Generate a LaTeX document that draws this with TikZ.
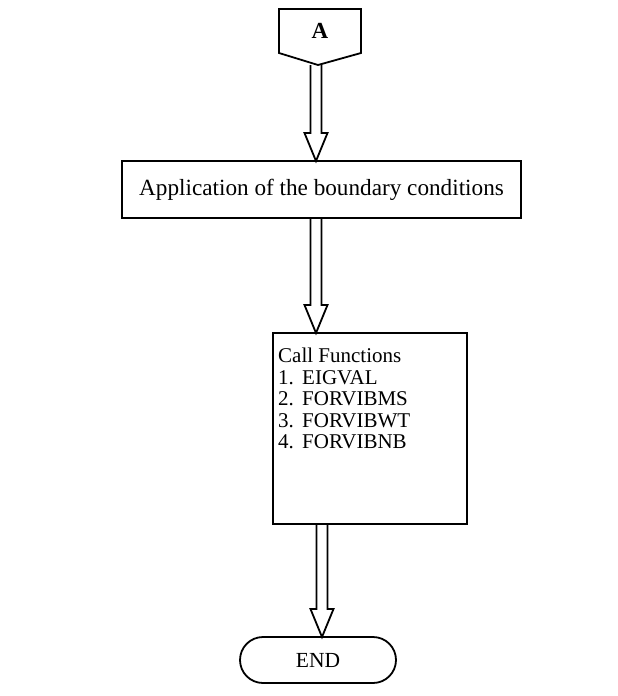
\documentclass[tikz,border=0pt]{standalone}
\usepackage{fontspec}
\setmainfont{Liberation Serif}
\usetikzlibrary{calc,shapes.misc}
\tikzset{
  line/.style={line width=1.8pt, line join=miter},
  box/.style={line, draw, rectangle, inner sep=0pt, font=\fontsize{21}{24}\selectfont},
  txt/.style={inner sep=0pt, anchor=base west, font=\fontsize{21}{24}\selectfont},
  term/.style={line, draw, rounded rectangle, inner sep=0pt, font=\fontsize{21.5}{24}\selectfont},
}
\newcommand\hollowarrow[2]{%
  \draw[line] let \p1=(#1), \p2=(#2) in
    (\x2-5.5pt,\y1) -- (\x2-5.5pt,\y2+28pt) -- (\x2-11.5pt,\y2+28pt) -- (\x2,\y2)
    -- (\x2+11.5pt,\y2+28pt) -- (\x2+5.5pt,\y2+28pt) -- (\x2+5.5pt,\y1);}
\begin{document}
\begin{tikzpicture}[x=1pt,y=1pt]
\useasboundingbox (0,0) rectangle (618,-696);
% off-page connector A
\draw[line] (279,-9) -- (361,-9) -- (361,-53) -- (318,-65) -- (279,-53) -- cycle;
\coordinate (atip) at (316,-65);
\node[inner sep=0pt, font=\fontsize{23}{24}\selectfont\bfseries] (a) at (320,-31) {A};
% process box
\node[box, font=\fontsize{23.2}{26}\selectfont, minimum width=399pt, minimum height=57pt] (b1) at (321.5,-189.5) {Application of the boundary conditions};
% call box
\node[box, minimum width=194pt, minimum height=191pt] (b2) at (370,-428.5) {};
\node[txt] (t0) at (278,-362) {Call Functions};
\node[txt] (n1) at (278,-384) {1.};
\node[txt] (f1) at (302,-384) {EIGVAL};
\node[txt] (n2) at (278,-405.5) {2.};
\node[txt] (f2) at (302,-405.5) {FORVIBMS};
\node[txt] (n3) at (278,-427) {3.};
\node[txt] (f3) at (302,-427) {FORVIBWT};
\node[txt] (n4) at (278,-448.5) {4.};
\node[txt] (f4) at (302,-448.5) {FORVIBNB};
% terminal
\node[term, minimum width=156pt, minimum height=46pt] (end) at (318,-660) {END};
% connectors
\coordinate (e1) at (316,-161);
\hollowarrow{atip}{e1}
\coordinate (s2) at (316,-218);
\coordinate (e2) at (316,-333);
\hollowarrow{s2}{e2}
\coordinate (s3) at (322,-524);
\coordinate (e3) at (322,-637);
\hollowarrow{s3}{e3}
\end{tikzpicture}
\end{document}
